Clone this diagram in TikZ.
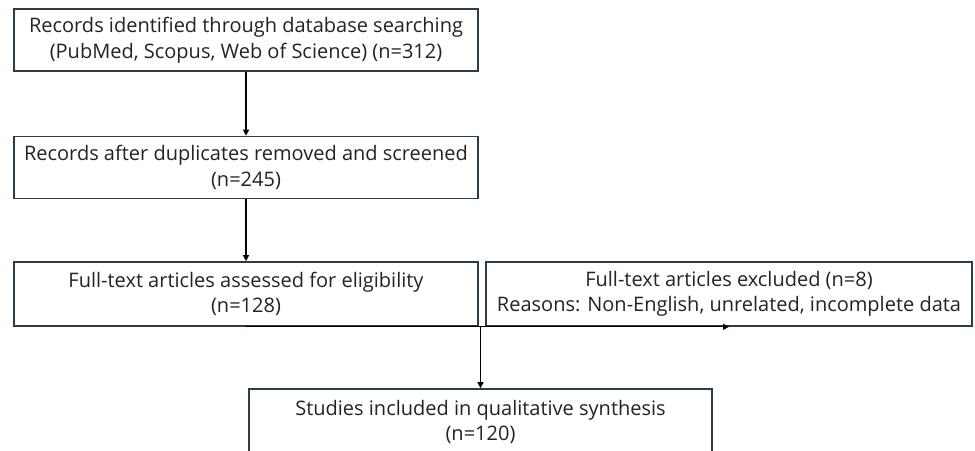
\documentclass[tikz,border=0pt]{standalone}
\usepackage{fontspec}
\setmainfont{Open Sans}
\usetikzlibrary{arrows.meta}
\definecolor{boxc}{RGB}{38,62,80}
\definecolor{txt}{RGB}{35,35,35}
\begin{document}
\begin{tikzpicture}[x=1pt,y=-1pt,
  box/.style={draw=boxc, line width=1.6pt, align=center, inner sep=0pt,
    font=\fontsize{20}{25.5}\selectfont, text=txt,
    execute at begin node={\rule{0pt}{21pt}}},
  conn/.style={draw=black, line width=1.2pt, -{Triangle[length=6pt,width=6pt]}}]
\clip (0,0) rectangle (975,450);
\node[box, minimum width=464pt, minimum height=62pt] (b1) at (246,40)
  {Records identified through database searching\\(PubMed, Scopus, Web of Science) (n=312)};
\node[box, minimum width=464pt, minimum height=62pt] (b2) at (246,167.5)
  {Records after duplicates removed and screened\\(n=245)};
\node[box, minimum width=464pt, minimum height=64pt] (b3) at (246,294)
  {Full-text articles assessed for eligibility\\(n=128)};
\node[box, minimum width=486pt, minimum height=64pt] (b4) at (729,294)
  {Full-text articles excluded (n=8)\\Reasons: Non-English, unrelated, incomplete data};
\node[box, minimum width=463pt, minimum height=66pt] (b5) at (480.5,422)
  {Studies included in qualitative synthesis\\(n=120)};
\coordinate (j) at (b5.north |- b3.south);
\draw[conn] (b1.south) -- (b2.north);
\draw[conn] (b2.south) -- (b3.north);
\draw[conn] (b3.south) -- (b4.south);
\draw[conn] (j) -- (b5.north);
\end{tikzpicture}
\end{document}
